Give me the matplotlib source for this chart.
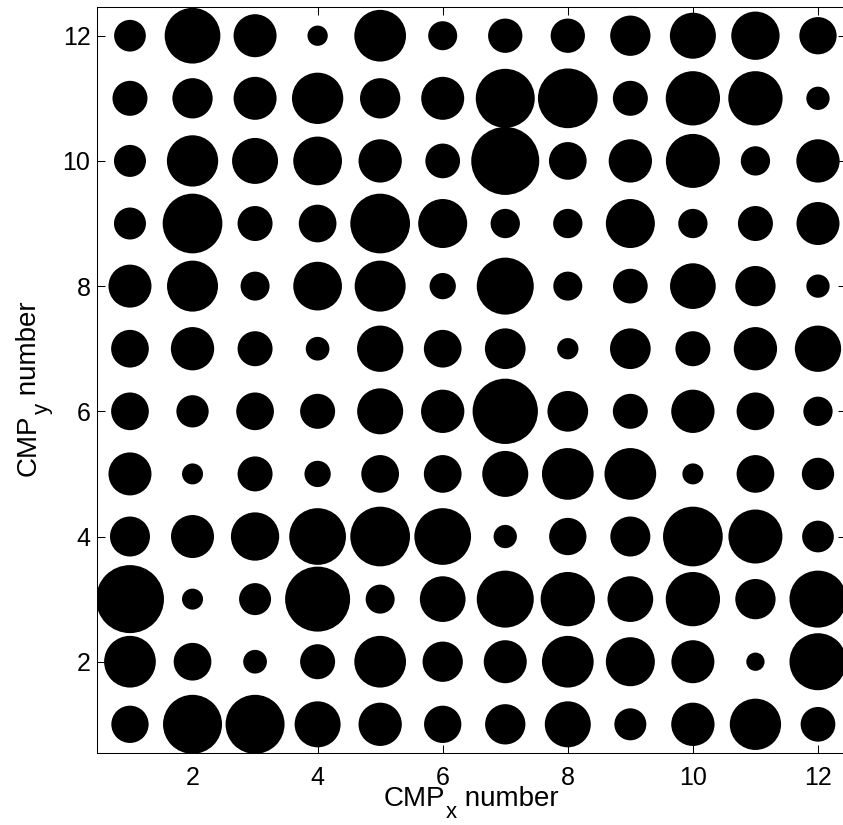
import numpy as np
import matplotlib
matplotlib.use('Agg')
import matplotlib.pyplot as plt

plt.rcParams['font.family'] = ['Liberation Sans', 'DejaVu Sans']

DPI = 100

# grid positions
cmp_x = [1, 2, 3, 4, 5, 6, 7, 8, 9, 10, 11, 12]
cmp_y = [12, 11, 10, 9, 8, 7, 6, 5, 4, 3, 2, 1]

# circle diameters (px), one list per CMP_y row, CMP_x = 1..12
row12 = [31.7, 55.7, 43.0, 20.3, 51.7, 29.0, 34.3, 34.3, 40.3, 46.0, 48.3, 37.3]
row11 = [35.0, 40.3, 43.0, 51.3, 40.3, 43.0, 59.0, 59.7, 35.0, 54.3, 54.3, 23.3]
row10 = [32.0, 51.3, 46.0, 48.7, 43.3, 34.7, 68.0, 37.7, 43.3, 54.0, 29.3, 43.3]
row9 = [32.0, 59.7, 35.0, 37.7, 59.7, 49.0, 29.3, 29.3, 49.0, 29.3, 35.0, 43.0]
row8 = [43.0, 51.0, 29.0, 48.7, 51.0, 26.3, 57.0, 29.0, 34.7, 45.7, 40.3, 23.3]
row7 = [37.7, 43.3, 35.0, 23.7, 46.3, 37.7, 40.7, 21.3, 40.7, 35.0, 43.3, 46.3]
row6 = [37.7, 32.3, 37.7, 35.0, 46.0, 43.3, 65.3, 40.7, 35.0, 43.3, 37.7, 29.3]
row5 = [43.0, 21.0, 35.0, 26.3, 37.7, 37.7, 46.0, 51.7, 51.7, 21.0, 37.7, 32.3]
row4 = [40.0, 43.0, 48.3, 56.7, 59.7, 56.7, 23.3, 37.3, 40.0, 59.7, 54.0, 31.7]
row3 = [68.0, 21.0, 32.0, 65.0, 29.0, 45.7, 57.0, 54.3, 45.7, 54.3, 40.3, 57.0]
row2 = [51.7, 37.7, 23.7, 35.0, 51.7, 40.3, 43.0, 51.7, 49.0, 43.0, 18.3, 57.0]
row1 = [37.3, 59.0, 59.0, 46.0, 43.3, 37.3, 40.3, 46.0, 32.0, 43.3, 51.3, 34.7]

ticks = [2, 4, 6, 8, 10, 12]

diam = np.array([row12, row11, row10, row9, row8, row7,
                 row6, row5, row4, row3, row2, row1])
X, Y = np.meshgrid(cmp_x, cmp_y)

W, H = 843, 825
fig = plt.figure(figsize=(W / DPI, H / DPI), dpi=DPI)
ax = fig.add_axes([96.7 / W, (H - 753.3) / H, 748.8 / W, 746.0 / H])

ax.scatter(X.ravel(), Y.ravel(), s=(diam.ravel() * 72 / DPI) ** 2,
           c='black', marker='o', linewidths=0)

ax.set_xlim(0.468, 12.44)
ax.set_ylim(0.537, 12.454)
ax.set_xticks(ticks)
ax.set_yticks(ticks)

ax.tick_params(direction='in', length=5.5, width=0.75, top=True, right=True,
               labelsize=18, colors='black')
ax.tick_params(axis='x', pad=9)
ax.tick_params(axis='y', pad=4.5)
for sp in ax.spines.values():
    sp.set_linewidth(0.75)


def put_label(x0, y0, parts, vertical=False):
    # lay out text pieces one after another (pixel coords, top-left origin)
    r = fig.canvas.get_renderer()
    pos = 0
    for s, fs, drop in parts:
        if vertical:
            t = fig.text((x0 + drop) / W, (H - (y0 - pos)) / H, s, fontsize=fs,
                         rotation=90, rotation_mode='anchor',
                         ha='left', va='baseline')
            pos += t.get_window_extent(r).height
        else:
            t = fig.text((x0 + pos) / W, (H - (y0 + drop)) / H, s, fontsize=fs,
                         ha='left', va='baseline')
            pos += t.get_window_extent(r).width


put_label(384, 806.5, [('CMP', 20, 0), ('x', 16, 12), (' number', 20, 0)])
put_label(36, 476, [('CMP', 20, 0), ('y', 16, 12), (' number', 20, 0)],
          vertical=True)

fig.savefig('out.png', dpi=DPI)
